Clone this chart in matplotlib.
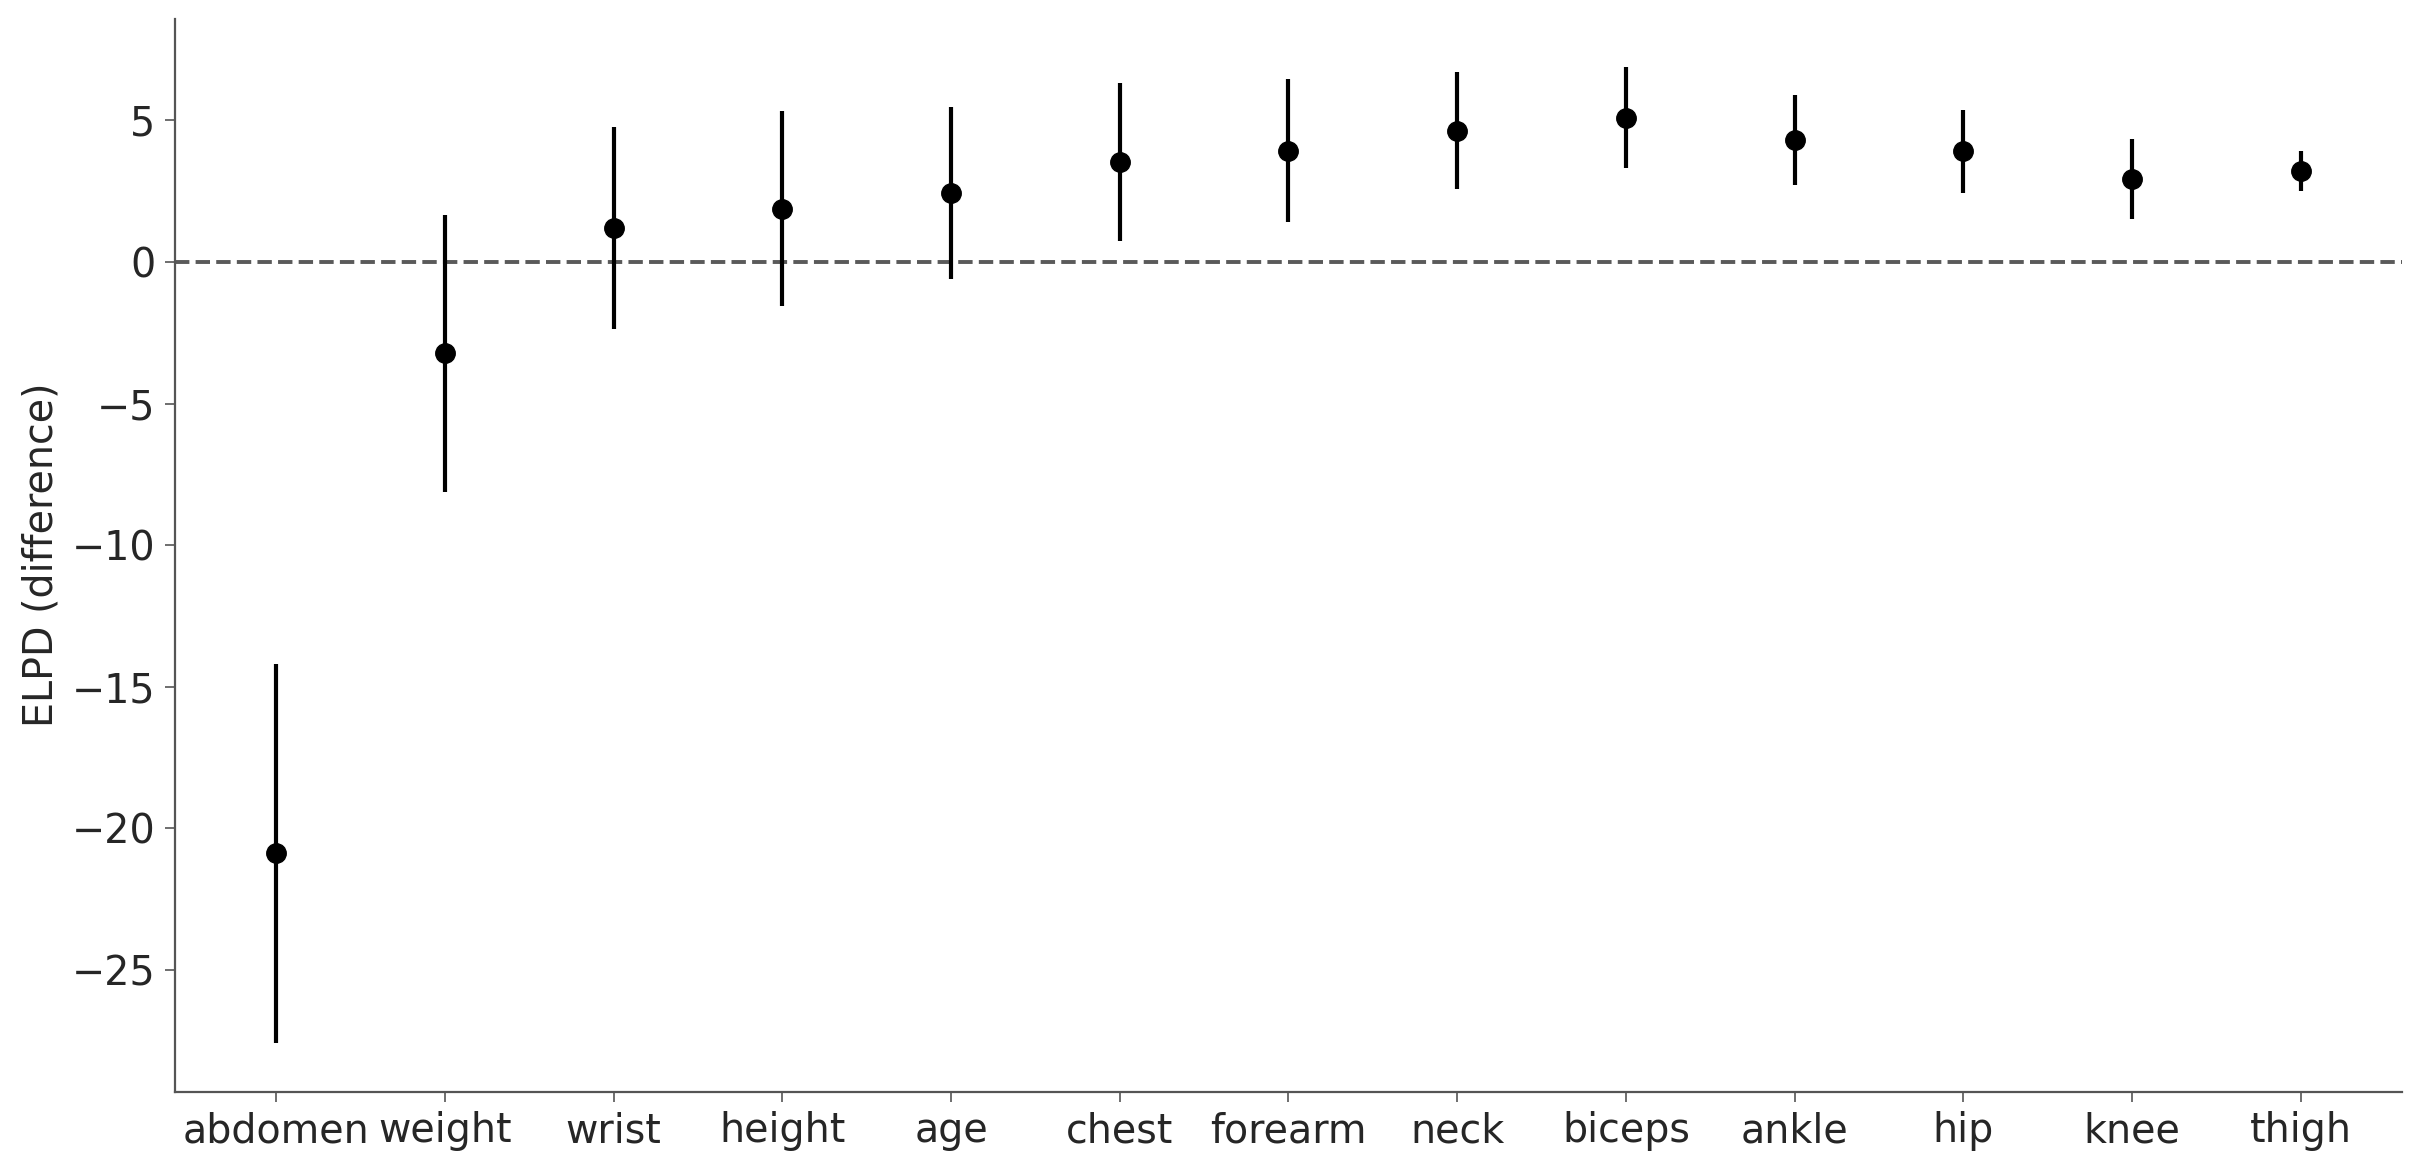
import numpy as np
import matplotlib.pyplot as plt

# variables, ordered as in the picture
names = ['abdomen', 'weight', 'wrist', 'height', 'age', 'chest', 'forearm',
         'neck', 'biceps', 'ankle', 'hip', 'knee', 'thigh']
elpd_diff = [-20.88, -3.23, 1.20, 1.87, 2.43, 3.52, 3.93, 4.63, 5.09, 4.30, 3.91, 2.93, 3.22]
elpd_err = [6.70, 4.90, 3.57, 3.44, 3.03, 2.78, 2.52, 2.07, 1.78, 1.60, 1.46, 1.42, 0.70]

plt.rcParams['font.family'] = ['DejaVu Sans']
txt = '#262626'

fig = plt.figure(figsize=(24.23, 11.72), dpi=100)
ax = fig.add_axes([0.0722, 0.0683, 0.9191, 0.9159])

x = np.arange(len(names))
ax.errorbar(x, elpd_diff, yerr=elpd_err, fmt='o', color='k', ms=14,
            elinewidth=3, capsize=0)
ax.axhline(0, color='#5a5a5a', ls='--', lw=2.8, zorder=0)

ax.set_xticks(x)
ax.set_xticklabels(names)
ax.set_yticks([5, 0, -5, -10, -15, -20, -25])
ax.set_ylabel('ELPD (difference)', fontsize=28.5, color=txt)
ax.yaxis.set_label_coords(-0.051, 0.5)
ax.tick_params(labelsize=28.5, colors=txt, length=7, width=1.2, pad=7)
for s in ['top', 'right']:
    ax.spines[s].set_visible(False)
for s in ['left', 'bottom']:
    ax.spines[s].set_color('#555555')
    ax.spines[s].set_linewidth(1.6)
ax.tick_params(color='#555555')

fig.savefig('out.png', dpi=100)
